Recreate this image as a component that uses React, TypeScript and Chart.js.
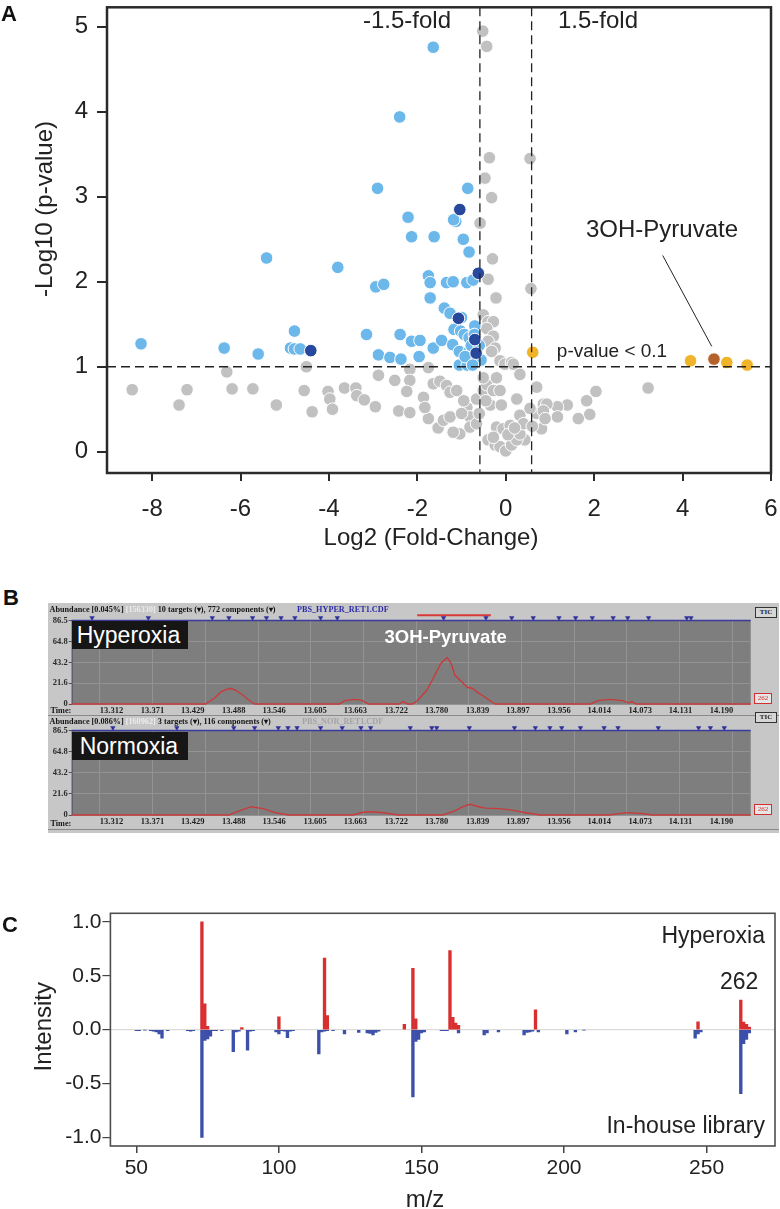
import React, { useEffect, useRef } from "react";
import { Chart, registerables } from "chart.js";

Chart.register(...registerables);

const SANS = "'Liberation Sans', Arial, Helvetica, sans-serif";
const SERIF = "'Liberation Serif', 'Times New Roman', serif";

type Pt = [number, number];

// ---------------- Panel A: volcano plot ----------------
const NOT_SIGNIFICANT: Pt[] = [
  [-0.52, 4.95], [-0.43, 4.77], [-0.37, 3.46], [0.55, 3.45], [-0.47, 3.22], [-0.32, 2.99], [-0.58, 2.69],
  [-0.30, 2.27], [-0.40, 2.03], [0.57, 1.92], [-0.22, 1.81],
  [-0.51, 1.61], [-0.40, 1.53], [-0.28, 1.53], [-0.43, 1.45], [-0.28, 1.36], [-0.40, 1.30], [-0.24, 1.22],
  [-0.32, 1.18], [-0.13, 1.07], [-0.02, 1.03], [0.13, 1.05], [0.31, 0.92], [0.17, 1.03], [0.32, 0.91],
  [-8.45, 0.73], [-7.39, 0.55], [-7.21, 0.73], [-6.31, 0.94], [-6.19, 0.74], [-5.72, 0.74], [-5.19, 0.55],
  [-4.56, 0.72], [-4.51, 1.00], [-4.38, 0.47], [-4.02, 0.71], [-3.98, 0.62], [-3.92, 0.50], [-3.65, 0.75],
  [-3.39, 0.75], [-3.37, 0.66], [-3.20, 0.61], [-2.95, 0.53], [-2.88, 0.90], [-2.51, 0.84], [-2.17, 0.97],
  [-2.17, 0.84], [-2.24, 0.71], [-2.42, 0.48], [-2.17, 0.46], [-1.75, 0.99], [-1.75, 0.39], [-1.53, 0.28],
  [-1.41, 0.37], [-1.26, 0.41], [-1.64, 0.80], [-1.49, 0.83], [-1.34, 0.78], [-1.26, 0.70], [-1.11, 0.72],
  [-1.86, 0.64], [-1.83, 0.52], [-1.04, 0.21], [-1.19, 0.23],
  [-0.88, 0.52], [-0.81, 0.41], [-0.81, 0.29], [-0.66, 0.33], [-0.66, 0.62], [-0.51, 0.72], [-0.43, 0.79],
  [-0.28, 0.72], [-0.13, 0.72], [-0.21, 0.87], [-0.51, 0.87], [-0.95, 0.60], [-1.00, 0.45], [-0.60, 0.45],
  [-0.35, 0.55], [-0.45, 0.60], [-0.10, 0.55],
  [0.25, 0.62], [0.70, 0.76], [0.70, 0.45], [0.85, 0.56], [0.81, 0.27], [0.43, 0.14],
  [-0.40, 0.14], [-0.24, 0.08], [-0.13, 0.06], [0.00, 0.01], [0.13, 0.08], [0.25, 0.14], [0.32, 0.21],
  [-0.21, 0.29], [-0.06, 0.27], [0.10, 0.31], [0.32, 0.43], [0.40, 0.33], [-0.28, 0.17], [0.05, 0.20], [0.20, 0.28],
  [3.22, 0.75], [2.04, 0.71], [1.83, 0.60], [1.90, 0.44], [1.64, 0.39], [1.39, 0.55], [1.17, 0.53], [1.17, 0.41],
  [0.93, 0.56], [0.85, 0.48], [0.89, 0.39], [0.55, 0.51], [0.60, 0.30],
];

const DOWN_REGULATED: Pt[] = [
  [-1.64, 4.76], [-2.40, 3.94], [-2.90, 3.10], [-0.86, 3.10], [-2.21, 2.76], [-1.13, 2.71], [-1.18, 2.73],
  [-2.13, 2.53], [-1.62, 2.53], [-0.96, 2.50], [-0.83, 2.35], [-5.41, 2.28], [-3.80, 2.17], [-1.75, 2.07],
  [-1.71, 1.99], [-1.34, 1.99], [-1.19, 2.00], [-0.88, 1.99], [-0.74, 2.02], [-2.94, 1.94], [-2.76, 1.97],
  [-1.71, 1.81], [-1.39, 1.69], [-1.26, 1.63], [-1.00, 1.58],
  [-4.78, 1.42], [-3.15, 1.38], [-2.39, 1.38], [-2.13, 1.30], [-1.94, 1.31], [-1.64, 1.22], [-1.45, 1.31],
  [-8.25, 1.27], [-6.37, 1.22], [-5.60, 1.15], [-4.87, 1.22], [-4.78, 1.21], [-4.65, 1.21], [-2.88, 1.14],
  [-2.62, 1.11], [-2.37, 1.09], [-1.96, 1.12],
  [-1.20, 1.26], [-1.17, 1.44], [-1.05, 1.18], [-1.02, 1.42], [-0.94, 1.38], [-0.83, 1.34], [-1.05, 1.02],
  [-0.87, 1.02], [-0.83, 1.18], [-0.70, 1.48], [-0.71, 1.38], [-0.64, 1.10], [-0.56, 1.08], [-0.78, 1.25],
  [-0.92, 1.12], [-0.60, 1.25], [-0.75, 1.02],
];

const DOWN_HIGHLIGHTED: Pt[] = [
  [-1.04, 2.85], [-0.62, 2.10], [-1.07, 1.57], [-0.70, 1.32], [-0.67, 1.16], [-4.41, 1.19],
];

const UP_REGULATED: Pt[] = [[0.61, 1.17], [4.18, 1.07], [5.00, 1.05], [5.46, 1.02]];
const TARGET_METABOLITE: Pt[] = [[4.71, 1.09]];

const A_X_TICKS = [-8, -6, -4, -2, 0, 2, 4, 6];
const A_Y_TICKS = [0, 1, 2, 3, 4, 5];
const FOLD_LINES = [-0.585, 0.585];
const P_LINE = 1;
const POINTER: Pt[] = [[3.55, 2.31], [4.66, 1.24]];

// ---------------- Panel B: chromatograms ----------------
const TIME_LABELS = [13.312, 13.371, 13.429, 13.488, 13.546, 13.605, 13.663, 13.722, 13.780, 13.839, 13.897, 13.956, 14.014, 14.073, 14.131, 14.190];
const B_Y_TICKS = [0, 21.6, 43.2, 64.8, 86.5];

const HYPER_TIME = [13.2547, 13.447, 13.46, 13.47, 13.482, 13.49, 13.501, 13.511, 13.518, 13.64, 13.648, 13.66, 13.672, 13.682,
  13.726, 13.732, 13.738, 13.745, 13.752, 13.766, 13.776, 13.786, 13.795, 13.801, 13.806, 13.816, 13.824, 13.831, 13.841,
  13.854, 13.864, 14.002, 14.012, 14.03, 14.048, 14.056, 14.061, 14.067, 14.232];
const HYPER_ABUND = [0, 0, 5.9, 12.8, 16.3, 14.5, 9.3, 3.4, 0, 0, 3.5, 4.8, 4, 0,
  0, 2.5, 0, 0, 3.4, 14.5, 28, 42, 48, 42, 30, 23, 17.3, 16.3, 11,
  4.9, 0, 0, 3.5, 4.8, 3.5, 1, 2.5, 0, 0];

const NORMO_TIME = [13.2547, 13.481, 13.495, 13.513, 13.53, 13.55, 13.567, 13.66, 13.672, 13.685, 13.70, 13.725,
  13.789, 13.805, 13.818, 13.828, 13.838, 13.85, 13.87, 13.888, 13.91, 13.929, 14.028, 14.054, 14.075, 14.09, 14.232];
const NORMO_ABUND = [0, 0, 4, 8.5, 6.5, 2, 0, 0, 2.5, 3.4, 2.5, 0,
  0, 4, 8.5, 11, 9, 7, 6.5, 5, 2, 0, 0, 2.4, 1.5, 0, 0];

const HYPER_TARGETS = [13.284, 13.365, 13.457, 13.481, 13.515, 13.535, 13.556, 13.576, 13.613, 13.637, 13.790, 13.851,
  13.888, 13.919, 13.956, 13.980, 14.004, 14.034, 14.055, 14.085, 14.140, 14.146];
const NORMO_TARGETS = [13.314, 13.406, 13.488, 13.518, 13.552, 13.566, 13.579, 13.613, 13.644, 13.671, 13.685, 13.742,
  13.773, 13.780, 13.827, 13.892, 13.922, 13.943, 13.960, 13.987, 14.021, 14.041, 14.099, 14.157, 14.174, 14.194];
const HYPER_ID_WINDOW = [13.752, 13.858];

// ---------------- Panel C: mass spectra ----------------
const MZ_SAMPLE = [73, 74, 75, 87, 100, 116, 117, 144, 147, 148, 160, 161, 162, 163, 190, 247, 262, 263, 264, 265];
const INT_SAMPLE = [1.0, 0.24, 0.03, 0.02, 0.12, 0.665, 0.13, 0.05, 0.57, 0.1, 0.735, 0.115, 0.06, 0.04, 0.185, 0.073, 0.275, 0.07, 0.05, 0.025];

const MZ_LIBRARY = [50, 51, 53, 55, 56, 57, 58, 59, 61, 68, 69, 70, 73, 74, 75, 76, 77, 78, 80, 84, 85, 86, 89, 90, 91,
  99, 100, 101, 102, 103, 104, 105, 114, 115, 116, 117, 119, 123, 128, 131, 132, 133, 134, 135, 147, 148, 149, 150, 151,
  157, 158, 159, 163, 172, 173, 177, 186, 187, 188, 189, 191, 201, 204, 207, 246, 247, 248, 262, 263, 264, 265];
const INT_LIBRARY = [-0.01, -0.01, -0.005, -0.01, -0.015, -0.02, -0.04, -0.08, -0.01, -0.01, -0.015, -0.01, -1.0, -0.1,
  -0.085, -0.06, -0.01, -0.01, -0.01, -0.205, -0.02, -0.015, -0.19, -0.015, -0.01,
  -0.02, -0.04, -0.01, -0.015, -0.075, -0.015, -0.01, -0.225, -0.02, -0.015, -0.01, -0.01, -0.04, -0.025, -0.03, -0.035,
  -0.05, -0.025, -0.015, -0.625, -0.11, -0.09, -0.03, -0.02,
  -0.01, -0.01, -0.01, -0.03, -0.05, -0.03, -0.02, -0.05, -0.025, -0.02, -0.015, -0.02, -0.04, -0.02, -0.005, -0.08,
  -0.04, -0.02, -0.595, -0.13, -0.09, -0.03];
const C_X_TICKS = [50, 100, 150, 200, 250];
const C_Y_TICKS = [-1, -0.5, 0, 0.5, 1];

// ---------------- helpers ----------------
const toXY = (pts: Pt[]) => pts.map(([x, y]) => ({ x, y }));
const pairXY = (xs: number[], ys: number[]) => xs.map((x, i) => ({ x, y: ys[i] }));
const fixedTicks = (values: number[]) => (scale: any) => {
  scale.ticks = values.map((v) => ({ value: v }));
};
const fitBox = (width?: number, height?: number) => (scale: any) => {
  if (width !== undefined) scale.width = width;
  if (height !== undefined) scale.height = height;
  scale.paddingLeft = 0;
  scale.paddingRight = 0;
  scale.paddingTop = 0;
  scale.paddingBottom = 0;
};
const line = (ctx: CanvasRenderingContext2D, x1: number, y1: number, x2: number, y2: number) => {
  ctx.beginPath();
  ctx.moveTo(x1, y1);
  ctx.lineTo(x2, y2);
  ctx.stroke();
};

const volcanoDecor = {
  id: "volcanoDecor",
  afterDatasetsDraw(chart: any) {
    const { ctx, chartArea: a, scales } = chart;
    const x = scales.x;
    const y = scales.y;
    ctx.save();
    ctx.strokeStyle = "#222";
    ctx.lineWidth = 1.3;
    ctx.setLineDash([9, 5]);
    FOLD_LINES.forEach((v) => {
      const px = x.getPixelForValue(v);
      line(ctx, px, a.top, px, a.bottom);
    });
    const py = y.getPixelForValue(P_LINE);
    line(ctx, a.left, py, a.right, py);
    ctx.setLineDash([]);
    ctx.lineWidth = 1;
    line(ctx, x.getPixelForValue(POINTER[0][0]), y.getPixelForValue(POINTER[0][1]),
      x.getPixelForValue(POINTER[1][0]), y.getPixelForValue(POINTER[1][1]));
    ctx.strokeStyle = "#2a2a2a";
    ctx.lineWidth = 2.5;
    ctx.strokeRect(a.left, a.top, a.right - a.left, a.bottom - a.top);

    ctx.fillStyle = "#222";
    ctx.textAlign = "center";
    ctx.textBaseline = "middle";
    ctx.font = `24px ${SANS}`;
    ctx.fillText("-1.5-fold", 407, 21);
    ctx.fillText("1.5-fold", 598, 21);
    ctx.fillText("3OH-Pyruvate", 662, 230);
    ctx.fillText("Log2 (Fold-Change)", 431, 538);
    ctx.font = `19px ${SANS}`;
    ctx.fillText("p-value < 0.1", 612, 352);
    ctx.font = `24px ${SANS}`;
    ctx.translate(45, 209);
    ctx.rotate(-Math.PI / 2);
    ctx.fillText("-Log10 (p-value)", 0, 0);
    ctx.restore();
  },
};

function makeVolcano(canvas: HTMLCanvasElement) {
  const pts = (p: Pt[], color: string) => ({
    data: toXY(p),
    backgroundColor: color,
    borderColor: "#ffffff",
    borderWidth: 1,
    pointRadius: 6.3,
    pointHoverRadius: 6.3,
  });
  const tickFont = { family: SANS, size: 24 };
  return new Chart(canvas, {
    type: "scatter",
    data: {
      datasets: [
        pts(TARGET_METABOLITE, "#b4612c"),
        pts(DOWN_HIGHLIGHTED, "#27489c"),
        pts(UP_REGULATED, "#f0b42b"),
        pts(DOWN_REGULATED, "#6db8ea"),
        pts(NOT_SIGNIFICANT, "#c1c1c1"),
      ] as any,
    },
    options: {
      animation: false,
      responsive: false,
      devicePixelRatio: 1,
      events: [],
      layout: { padding: { left: 0, right: 9, top: 2, bottom: 0 } },
      plugins: { legend: { display: false }, tooltip: { enabled: false } },
      scales: {
        x: {
          type: "linear",
          min: -9.02,
          max: 6.0,
          afterBuildTicks: fixedTicks(A_X_TICKS),
          afterFit: fitBox(undefined, 87),
          border: { display: false },
          grid: { drawOnChartArea: false, drawTicks: true, tickLength: 8, color: "#2a2a2a", lineWidth: 2 },
          ticks: { font: tickFont, color: "#222", padding: 14, maxRotation: 0, autoSkip: false, callback: (v: any) => String(v) },
        },
        y: {
          type: "linear",
          min: -0.25,
          max: 5.23,
          afterBuildTicks: fixedTicks(A_Y_TICKS),
          afterFit: fitBox(107),
          border: { display: false },
          grid: { drawOnChartArea: false, drawTicks: true, tickLength: 10, color: "#2a2a2a", lineWidth: 2 },
          ticks: { font: tickFont, color: "#222", padding: 9, autoSkip: false, callback: (v: any) => String(v) },
        },
      },
    } as any,
    plugins: [volcanoDecor],
  });
}

const chromDecor = {
  id: "chromDecor",
  beforeDraw(chart: any) {
    const { ctx, chartArea: a } = chart;
    ctx.save();
    ctx.fillStyle = "#7e7e7e";
    ctx.fillRect(a.left, a.top, a.right - a.left, a.bottom - a.top);
    ctx.restore();
  },
  beforeDatasetsDraw(chart: any) {
    const { ctx, chartArea: a } = chart;
    ctx.save();
    ctx.strokeStyle = "#3b3b9e";
    ctx.lineWidth = 1.5;
    line(ctx, a.left, a.top, a.right, a.top);
    ctx.strokeStyle = "#505070";
    ctx.lineWidth = 1;
    line(ctx, a.left + 0.5, a.top, a.left + 0.5, a.bottom);
    ctx.restore();
  },
};

function makeChromatogram(canvas: HTMLCanvasElement, time: number[], abund: number[], targets: number[], idWindow?: number[]) {
  const datasets: any[] = [
    {
      data: targets.map((t) => ({ x: t, y: 89.2 })),
      showLine: false,
      pointStyle: "triangle",
      rotation: 180,
      pointRadius: 2.6,
      backgroundColor: "#30309a",
      borderColor: "#30309a",
      borderWidth: 0.5,
      clip: false,
    },
  ];
  if (idWindow) {
    datasets.push({
      data: idWindow.map((t) => ({ x: t, y: 92 })),
      showLine: true,
      borderColor: "#d83a3a",
      borderWidth: 2,
      pointRadius: 0,
      clip: false,
    });
  }
  datasets.push({
    data: pairXY(time, abund),
    showLine: true,
    borderColor: "#c93b3b",
    borderWidth: 1.4,
    pointRadius: 0,
    tension: 0,
    clip: 3,
  });
  const serif = { family: SERIF, size: 8.5, weight: "bold" };
  return new Chart(canvas, {
    type: "scatter",
    data: { datasets },
    options: {
      animation: false,
      responsive: false,
      devicePixelRatio: 1,
      events: [],
      layout: { padding: { left: 0, right: 28.3, top: 7.5, bottom: 0 } },
      plugins: { legend: { display: false }, tooltip: { enabled: false } },
      scales: {
        x: {
          type: "linear",
          min: 13.2547,
          max: 14.232,
          afterBuildTicks: fixedTicks(TIME_LABELS),
          afterFit: fitBox(undefined, 15),
          border: { display: false },
          grid: { drawOnChartArea: false, drawTicks: false },
          ticks: { font: serif, color: "#1e1e1e", padding: 2, maxRotation: 0, autoSkip: false, callback: (v: any) => Number(v).toFixed(3) },
        },
        xg: {
          axis: "x",
          type: "linear",
          position: "top",
          min: -0.537,
          max: 12.35,
          afterBuildTicks: fixedTicks([0, 1, 2, 3, 4, 5, 6, 7, 8, 9, 10, 11, 12]),
          afterFit: fitBox(undefined, 0),
          border: { display: false },
          grid: { drawOnChartArea: true, drawTicks: false, color: "#939393", lineWidth: 1 },
          ticks: { display: false },
        },
        y: {
          type: "linear",
          min: 0,
          max: 86.5,
          afterBuildTicks: fixedTicks(B_Y_TICKS),
          afterFit: fitBox(23.7),
          border: { display: false },
          grid: { drawOnChartArea: true, drawTicks: true, tickLength: 3, color: "#939393", tickColor: "#555" },
          ticks: { font: serif, color: "#2a2a2a", padding: 1, autoSkip: false, callback: (v: any) => (v === 0 ? "0" : Number(v).toFixed(1)) },
        },
      },
    } as any,
    plugins: [chromDecor],
  });
}

const spectrumDecor = {
  id: "spectrumDecor",
  afterDraw(chart: any) {
    const { ctx, chartArea: a } = chart;
    ctx.save();
    ctx.strokeStyle = "#4e4e4e";
    ctx.lineWidth = 1.6;
    ctx.strokeRect(a.left, a.top, a.right - a.left, a.bottom - a.top);
    ctx.fillStyle = "#222";
    ctx.font = `23px ${SANS}`;
    ctx.textAlign = "right";
    ctx.textBaseline = "alphabetic";
    ctx.fillText("Hyperoxia", 765, 63.3);
    ctx.fillText("262", 758.3, 109.3);
    ctx.fillText("In-house library", 765, 253.3);
    ctx.textAlign = "center";
    ctx.textBaseline = "middle";
    ctx.font = `24px ${SANS}`;
    ctx.fillText("m/z", 425, 320);
    ctx.translate(44.8, 146.7);
    ctx.rotate(-Math.PI / 2);
    ctx.fillText("Intensity", 0, 0);
    ctx.restore();
  },
};

function makeSpectrum(canvas: HTMLCanvasElement) {
  const tickFont = { family: SANS, size: 21 };
  return new Chart(canvas, {
    type: "bar",
    data: {
      datasets: [
        { data: pairXY(MZ_SAMPLE, INT_SAMPLE), backgroundColor: "#d82f30", barThickness: 2.7, grouped: false, borderWidth: 0 },
        { data: pairXY(MZ_LIBRARY, INT_LIBRARY), backgroundColor: "#3c50aa", barThickness: 2.7, grouped: false, borderWidth: 0 },
      ] as any,
    },
    options: {
      animation: false,
      responsive: false,
      devicePixelRatio: 1,
      events: [],
      layout: { padding: { left: 0, right: 5, top: 33.3, bottom: 0 } },
      plugins: { legend: { display: false }, tooltip: { enabled: false } },
      scales: {
        x: {
          type: "linear",
          min: 40.9,
          max: 274,
          offset: false,
          afterBuildTicks: fixedTicks(C_X_TICKS),
          afterFit: fitBox(undefined, 63),
          border: { display: false },
          grid: { drawOnChartArea: false, drawTicks: true, tickLength: 7, color: "#444", lineWidth: 1.5, offset: false },
          ticks: { font: tickFont, color: "#222", padding: 3, maxRotation: 0, autoSkip: false, callback: (v: any) => String(v) },
        },
        y: {
          type: "linear",
          min: -1.08,
          max: 1.08,
          afterBuildTicks: fixedTicks(C_Y_TICKS),
          afterFit: fitBox(110.4),
          border: { display: false },
          grid: {
            drawOnChartArea: true,
            drawTicks: true,
            tickLength: 8,
            lineWidth: 1.2,
            color: (c: any) => (c.tick && c.tick.value === 0 ? "#dadada" : "rgba(0,0,0,0)"),
            tickColor: "#444",
          },
          ticks: { font: tickFont, color: "#222", padding: 1, autoSkip: false, callback: (v: any) => Number(v).toFixed(1) },
        },
      },
    } as any,
    plugins: [spectrumDecor],
  });
}

const abs = (left: number, top: number, extra: React.CSSProperties = {}): React.CSSProperties => ({
  position: "absolute",
  left,
  top,
  ...extra,
});

const headerStyle: React.CSSProperties = {
  fontFamily: SERIF,
  fontWeight: "bold",
  fontSize: 8.2,
  lineHeight: "10px",
  whiteSpace: "pre",
  color: "#151515",
};

const letterStyle: React.CSSProperties = {
  fontFamily: SANS,
  fontWeight: "bold",
  fontSize: 22,
  lineHeight: "22px",
  color: "#111",
};

const labelBox: React.CSSProperties = {
  background: "#161616",
  color: "#fff",
  fontFamily: SANS,
  fontSize: 23,
  boxSizing: "border-box",
  width: 116.6,
  height: 28,
  lineHeight: "28px",
  whiteSpace: "pre",
};

const ticBox: React.CSSProperties = {
  boxSizing: "border-box",
  width: 22,
  height: 11,
  border: "1.5px solid #333",
  background: "#d6d6d6",
  fontFamily: SERIF,
  fontWeight: "bold",
  fontSize: 7,
  lineHeight: "8px",
  textAlign: "center",
  color: "#222",
};

const ionBox: React.CSSProperties = {
  boxSizing: "border-box",
  width: 18,
  height: 11,
  border: "1px solid #d03030",
  background: "#e6e6e6",
  fontFamily: SERIF,
  fontSize: 7,
  lineHeight: "9px",
  textAlign: "center",
  color: "#d03030",
};

export default function App() {
  const aRef = useRef<HTMLCanvasElement>(null);
  const b1Ref = useRef<HTMLCanvasElement>(null);
  const b2Ref = useRef<HTMLCanvasElement>(null);
  const cRef = useRef<HTMLCanvasElement>(null);

  useEffect(() => {
    const charts = [
      makeVolcano(aRef.current!),
      makeChromatogram(b1Ref.current!, HYPER_TIME, HYPER_ABUND, HYPER_TARGETS, HYPER_ID_WINDOW),
      makeChromatogram(b2Ref.current!, NORMO_TIME, NORMO_ABUND, NORMO_TARGETS),
      makeSpectrum(cRef.current!),
    ];
    return () => charts.forEach((c) => c.destroy());
  }, []);

  return (
    <div style={{ position: "absolute", left: 0, top: 0, width: 780, height: 1209, background: "#fff", overflow: "hidden" }}>
      {/* Panel A */}
      <canvas ref={aRef} width={780} height={560} style={abs(0, 0, { display: "block" })} />
      <div style={abs(1, 2.5, letterStyle)}>A</div>

      {/* Panel B */}
      <div style={abs(3, 587, letterStyle)}>B</div>
      <div style={abs(48, 603, { width: 731, height: 230, background: "#c7c7c7" })} />
      <div style={abs(48, 715, { width: 731, height: 1, background: "#8a8a8a" })} />
      <div style={abs(48, 829, { width: 731, height: 1, background: "#8a8a8a" })} />
      <canvas ref={b1Ref} width={731} height={106} style={abs(48, 613, { display: "block" })} />
      <canvas ref={b2Ref} width={731} height={107} style={abs(48, 723, { display: "block" })} />

      <div style={abs(49.5, 604.5, headerStyle)}>
        {"Abundance [0.045%] "}
        <span style={{ color: "#ececec" }}>[156330]</span>
        {" 10 targets (\u25BE), 772 components (\u25BE)"}
      </div>
      <div style={abs(297, 604.5, { ...headerStyle, color: "#2b2ba6" })}>PBS_HYPER_RET1.CDF</div>
      <div style={abs(49.5, 716.5, headerStyle)}>
        {"Abundance [0.086%] "}
        <span style={{ color: "#ececec" }}>[160962]</span>
        {" 3 targets (\u25BE), 116 components (\u25BE)"}
      </div>
      <div style={abs(302, 716.5, { ...headerStyle, color: "#a4a4a4" })}>PBS_NOR_RET1.CDF</div>
      <div style={abs(50.5, 705.5, headerStyle)}>Time:</div>
      <div style={abs(50.5, 818.5, headerStyle)}>Time:</div>

      <div style={abs(755, 606.5, ticBox)}>TIC</div>
      <div style={abs(755, 712, ticBox)}>TIC</div>
      <div style={abs(754, 693, ionBox)}>262</div>
      <div style={abs(754, 804, ionBox)}>262</div>

      <div style={abs(71.7, 620.5, { ...labelBox, paddingLeft: 5 })}>Hyperoxia</div>
      <div style={abs(71.7, 731.5, { ...labelBox, paddingLeft: 8 })}>Normoxia</div>
      <div
        style={abs(384.5, 627.6, {
          fontFamily: SANS,
          fontWeight: "bold",
          fontSize: 18.5,
          lineHeight: "18.5px",
          color: "#fff",
          whiteSpace: "pre",
        })}
      >
        3OH-Pyruvate
      </div>

      {/* Panel C */}
      <div style={abs(2, 914, letterStyle)}>C</div>
      <canvas ref={cRef} width={780} height={329} style={abs(0, 880, { display: "block" })} />
    </div>
  );
}
